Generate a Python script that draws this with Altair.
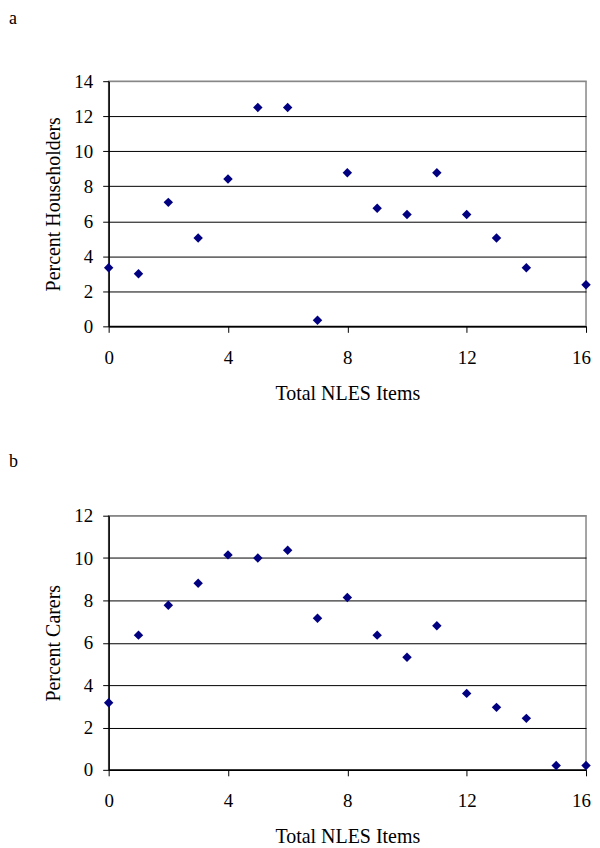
import altair as alt
import pandas as pd

# Panel a: Percent Householders by Total NLES Items (no point at 15)
hh_items = [0, 1, 2, 3, 4, 5, 6, 7, 8, 9, 10, 11, 12, 13, 14, 16]
hh_pct = [3.35, 3.0, 7.08, 5.05, 8.42, 12.5, 12.5, 0.35, 8.77, 6.74, 6.39, 8.77, 6.39, 5.05, 3.35, 2.37]

# Panel b: Percent Carers by Total NLES Items
carer_items = [0, 1, 2, 3, 4, 5, 6, 7, 8, 9, 10, 11, 12, 13, 14, 15, 16]
carer_pct = [3.17, 6.36, 7.77, 8.81, 10.15, 10.0, 10.37, 7.16, 8.14, 6.36, 5.32, 6.80, 3.61, 2.95, 2.43, 0.2, 0.2]

x_ticks = [0, 4, 8, 12, 16]
x_title = "Total NLES Items"

FONT = "Liberation Serif"
NAVY = "#000080"


def panel(items, pct, ytitle, ymax, letter, height, letter_y):
    df = pd.DataFrame({"items": items, "pct": pct})
    pts = alt.Chart(df).mark_point(
        shape="diamond", filled=True, size=90, color=NAVY, opacity=1
    ).encode(
        x=alt.X(
            "items:Q",
            scale=alt.Scale(domain=[0, 16], nice=False, zero=False),
            axis=alt.Axis(
                values=x_ticks, title=x_title, grid=False, tickSize=6,
                labelPadding=16, titlePadding=16, format="d", labelFlush=False,
                labelOffset=alt.condition("datum.value >= 16", alt.value(-5), alt.value(0)),
            ),
        ),
        y=alt.Y(
            "pct:Q",
            scale=alt.Scale(domain=[0, ymax], nice=False),
            axis=alt.Axis(
                values=list(range(0, ymax + 1, 2)), title=ytitle, grid=True,
                gridColor=alt.condition(f"datum.value >= {ymax}", alt.value("#888888"), alt.value("#000000")),
                tickSize=6, labelPadding=10, titlePadding=10, format="d", labelFlush=False,
            ),
        ),
    )
    lbl = alt.Chart(pd.DataFrame({"t": [letter]})).mark_text(
        align="left", baseline="top", font=FONT, fontSize=18, color="black"
    ).encode(x=alt.value(-100), y=alt.value(letter_y), text="t:N")
    return alt.layer(pts, lbl).properties(width=479, height=height)


pa = panel(hh_items, hh_pct, "Percent Householders", 14, "a", 246, -71)
pb = panel(carer_items, carer_pct, "Percent Carers", 12, "b", 255, -63)

chart = alt.vconcat(pa, pb, spacing=48).properties(
    padding={"left": 0, "top": 0, "right": 0, "bottom": 0}
).configure_axis(
    labelFont=FONT, titleFont=FONT, labelFontSize=19, titleFontSize=20,
    labelColor="black", titleColor="black", titleFontWeight="normal",
    domainColor="black", tickColor="black", domainWidth=1.5, gridWidth=1,
).configure_view(stroke="#888888", strokeWidth=1.5)

chart.save("out.html", embed_options={"renderer": "svg", "actions": False})
